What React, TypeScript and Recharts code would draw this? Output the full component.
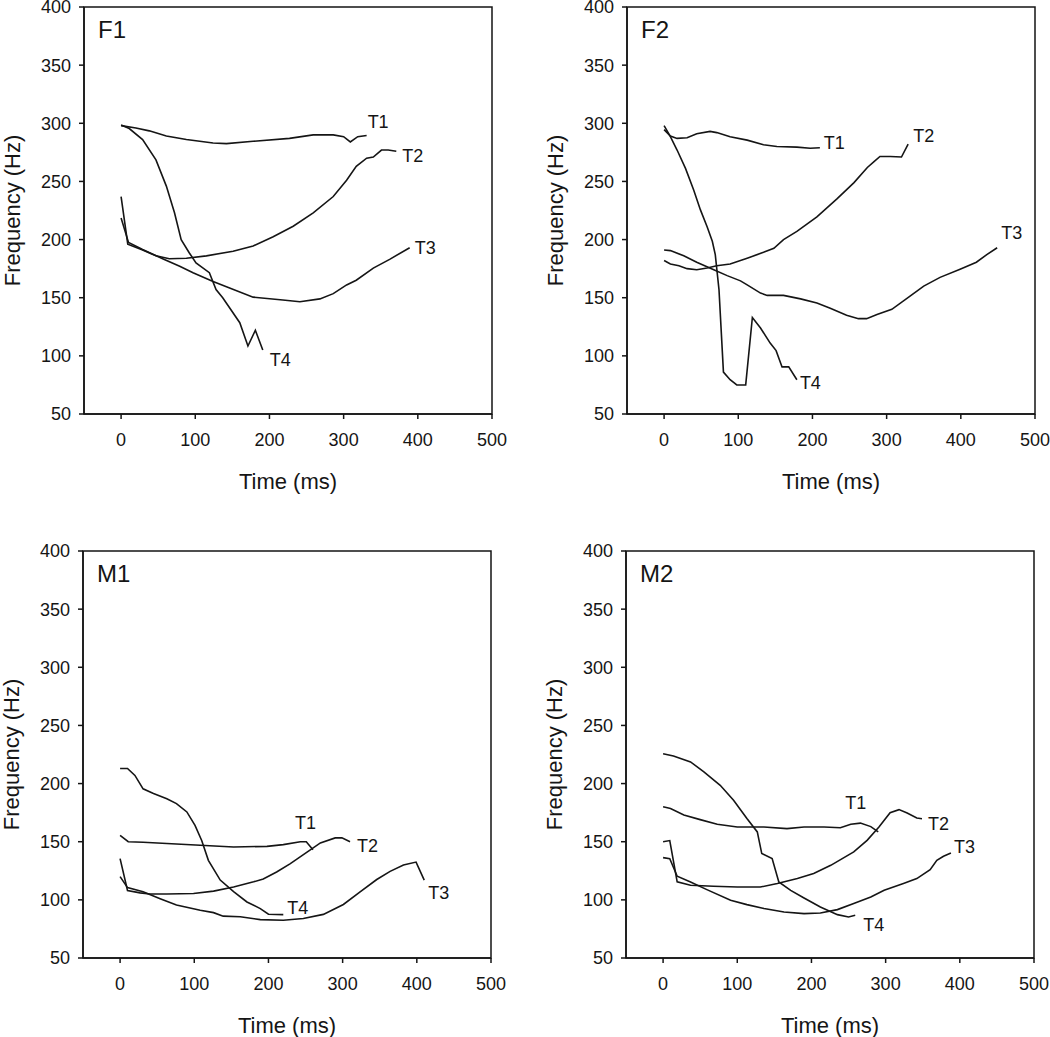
import React from "react";
import { LineChart, Line, XAxis, YAxis, ReferenceArea } from "recharts";

const timeTicks = [0, 100, 200, 300, 400, 500];
const freqTicks = [50, 100, 150, 200, 250, 300, 350, 400];
const toneNames = ["T1", "T2", "T3", "T4"];

// [time ms, frequency Hz]
const f1T1 = [[0, 298], [20, 296], [38, 293.5], [61, 289], [88, 286], [124, 283], [142, 282.5], [178, 284.5], [227, 287], [259, 290], [286, 290], [300, 288.5], [309, 284], [319, 288.5], [331, 289.5]];
const f1T2 = [[0, 237], [9, 196], [29, 191], [47, 186], [65, 183.5], [88, 184], [115, 186], [151, 190], [178, 194.5], [205, 202.5], [232, 211.5], [259, 223], [286, 237], [304, 251], [317, 263], [331, 270], [340, 271], [351, 277], [360, 277], [371, 276]];
const f1T3 = [[0, 218.5], [10, 197.5], [29, 191.5], [56, 183.5], [79, 177], [97, 171.5], [124, 164], [142, 159.5], [178, 150.5], [218, 148], [241, 146.5], [268, 149], [286, 153.5], [304, 161], [317, 165], [340, 175.5], [362, 183], [389, 193]];
const f1T4 = [[0, 298.5], [11, 295.5], [29, 286], [47, 268.5], [61, 246], [72, 223], [81, 200], [92, 188.5], [101, 180], [119, 171.5], [128, 157], [137, 150], [160, 128.5], [171, 108.5], [181, 122], [191, 105]];

const f2T1 = [[0, 294.5], [8.5, 289], [17.5, 287], [31, 287.5], [44, 291], [62, 293], [71, 292], [89, 288.5], [112, 285.5], [134, 281.5], [152, 280], [179, 279.5], [197, 278.5], [210, 279]];
const f2T2 = [[0, 182], [8.5, 179], [20, 177.5], [31, 175], [44, 174], [58, 175.5], [71, 177.5], [89, 179], [112, 184], [134, 189], [148, 192.5], [161, 200], [179, 207], [206, 219.5], [233, 235], [256, 249], [274, 262], [283, 267], [291, 271.5], [305, 271.5], [320, 271], [329, 282]];
const f2T3 = [[0, 191], [8.5, 190.5], [26.5, 186], [44, 180.5], [67, 174], [85, 169], [103, 164.5], [112, 161], [130, 154], [139, 152], [161, 152], [184, 149], [206, 145.5], [224, 141], [246, 135], [262, 132], [273, 132], [287, 135.5], [307, 140], [332, 151.5], [350, 160], [372, 167.5], [399, 174.5], [421, 180.5], [435, 187], [449, 193]];
const f2T4 = [[0, 298], [8.5, 288.5], [17.5, 277], [29, 261], [40, 242.5], [49, 225.5], [58, 211], [65, 198.5], [69, 187], [74, 157], [80, 86], [89, 79.5], [98, 75], [110, 75], [119, 133], [130, 124], [143, 111], [151, 104.5], [159, 90.5], [168, 90.5], [179, 79.5]];

const m1T1 = [[0, 155.5], [11, 150], [31, 149.5], [63, 148.5], [108, 147], [153, 145.5], [198, 146], [220, 147.5], [243, 150], [251, 150], [260, 143]];
const m1T2 = [[0, 135.5], [10, 108], [27, 106], [40, 105], [63, 105], [99, 105.5], [126, 107.5], [153, 111], [180, 115.5], [193, 118], [211, 124], [229, 131], [252, 141], [270, 149], [290, 153.3], [299, 153.3], [310, 150]];
const m1T3 = [[0, 120], [10, 110.5], [31, 107], [54, 101], [76, 95.5], [108, 91], [126, 89], [139, 86], [162, 85.5], [189, 83], [220, 82.5], [247, 84], [274, 87.5], [301, 96], [324, 107], [346, 117.5], [364, 124.5], [382, 130], [399, 132.5], [410, 117]];
const m1T4 = [[0, 213], [10, 213], [20, 207], [31, 195.5], [45, 191.5], [63, 187], [76, 182.8], [90, 175.6], [101, 164], [110, 151], [119, 134], [135, 117], [153, 107], [171, 98.2], [189, 92.5], [200, 87.6], [220, 87.3]];

const m2T1 = [[0, 180], [10, 178.5], [28, 173], [50, 169], [73, 165], [100, 162.7], [136, 162.7], [167, 161.3], [190, 162.7], [217, 162.7], [239, 162], [253, 165], [266, 166], [280, 163], [290, 158.4]];
const m2T2 = [[0, 150], [9, 151], [19, 115.5], [37, 112.5], [68, 111.7], [100, 111], [131, 111], [154, 114], [181, 118.3], [203, 122.6], [226, 129.7], [257, 141.2], [275, 151.2], [291, 162.7], [306, 175], [318, 177.6], [329, 174.7], [342, 170.4], [349, 169.8]];
const m2T3 = [[0, 136.3], [9, 135.4], [19, 120.3], [37, 115.4], [59, 108.8], [91, 99.6], [113, 95.9], [136, 92.5], [163, 89.6], [190, 88.2], [212, 88.7], [235, 91.6], [257, 96.8], [280, 102.5], [298, 108.2], [324, 114], [342, 118.3], [360, 126], [369, 134], [378, 137.5], [388, 140.3]];
const m2T4 = [[0, 225.7], [14, 223.7], [37, 218.6], [55, 210], [77, 198.5], [95, 185.6], [113, 169.9], [127, 158.4], [133, 139.8], [147, 135.5], [156, 115.4], [172, 108.2], [190, 101.6], [212, 93.9], [235, 87.3], [250, 85.3], [259, 86.7]];

const INK = "#151515";
const FONT = '"Liberation Sans", Arial, Helvetica, sans-serif';

type Panel = {
  name: string;
  left: number;
  top: number;
  tones: number[][][];
  // pixel offset of each tone label from the last point of its line
  labelShift: [number, number][];
};

// top = page y of the plot's upper edge minus 17 (chart margin)
const panels: Panel[] = [
  { name: "F1", left: 0, top: -10, tones: [f1T1, f1T2, f1T3, f1T4], labelShift: [[1, -14], [6, 4], [5, 0], [7, 10]] },
  { name: "F2", left: 543, top: -10, tones: [f2T1, f2T2, f2T3, f2T4], labelShift: [[4, -5], [5, -9], [4, -15], [3, 3]] },
  { name: "M1", left: -1, top: 534, tones: [m1T1, m1T2, m1T3, m1T4], labelShift: [[-18, -27], [7, 4], [4, 13], [4, -7]] },
  { name: "M2", left: 542, top: 534, tones: [m2T1, m2T2, m2T3, m2T4], labelShift: [[-33, -29], [6, 5], [3, -6], [8, 9]] },
];

const toPoints = (arr: number[][]) => arr.map(([t, f]) => ({ t, f }));

function endLabel(text: string, count: number, dx: number, dy: number) {
  return (p: any) => {
    if (p.index !== count - 1) return <g key={`d-${p.index}`} />;
    return (
      <text
        key={`lbl-${text}`}
        x={p.cx + dx}
        y={p.cy + dy}
        dy="0.355em"
        fontSize={18}
        fill={INK}
        fontFamily={FONT}
      >
        {text}
      </text>
    );
  };
}

function PitchPanel({ panel }: { panel: Panel }) {
  return (
    <div style={{ position: "absolute", left: panel.left, top: panel.top }}>
      <LineChart width={507} height={505} margin={{ top: 17, right: 15, bottom: 41, left: 12 }}>
        <XAxis
          type="number"
          dataKey="t"
          domain={[-50, 500]}
          ticks={timeTicks}
          interval={0}
          tickSize={5}
          tickMargin={14}
          height={40}
          stroke={INK}
          strokeWidth={1.5}
          tick={{ fontSize: 18, fill: INK, fontFamily: FONT }}
          label={{ value: "Time (ms)", position: "bottom", offset: 19, fill: INK, fontSize: 22, fontFamily: FONT }}
        />
        <YAxis
          type="number"
          domain={[50, 400]}
          ticks={freqTicks}
          interval={0}
          tickSize={5}
          tickMargin={8}
          width={72}
          stroke={INK}
          strokeWidth={1.5}
          tick={{ fontSize: 18, fill: INK, fontFamily: FONT }}
          label={{
            value: "Frequency (Hz)",
            angle: -90,
            position: "insideLeft",
            offset: 0,
            fill: INK,
            fontSize: 22,
            fontFamily: FONT,
            style: { textAnchor: "middle" },
          }}
        />
        <ReferenceArea
          x1={-50}
          x2={500}
          y1={50}
          y2={400}
          fill="none"
          fillOpacity={0}
          stroke={INK}
          strokeWidth={1.5}
          strokeOpacity={1}
          label={{ value: panel.name, position: "insideTopLeft", offset: 14, fontSize: 24, fill: INK, fontFamily: FONT }}
        />
        {panel.tones.map((tone, i) => (
          <Line
            key={toneNames[i]}
            data={toPoints(tone)}
            dataKey="f"
            type="linear"
            stroke={INK}
            strokeWidth={1.6}
            dot={endLabel(toneNames[i], tone.length, panel.labelShift[i][0], panel.labelShift[i][1])}
            activeDot={false}
            isAnimationActive={false}
          />
        ))}
      </LineChart>
    </div>
  );
}

export default function App() {
  return (
    <div
      style={{
        position: "absolute",
        left: 0,
        top: 0,
        width: 1050,
        height: 1037,
        overflow: "hidden",
        background: "#fff",
        fontFamily: FONT,
      }}
    >
      {panels.map((p) => (
        <PitchPanel key={p.name} panel={p} />
      ))}
    </div>
  );
}
